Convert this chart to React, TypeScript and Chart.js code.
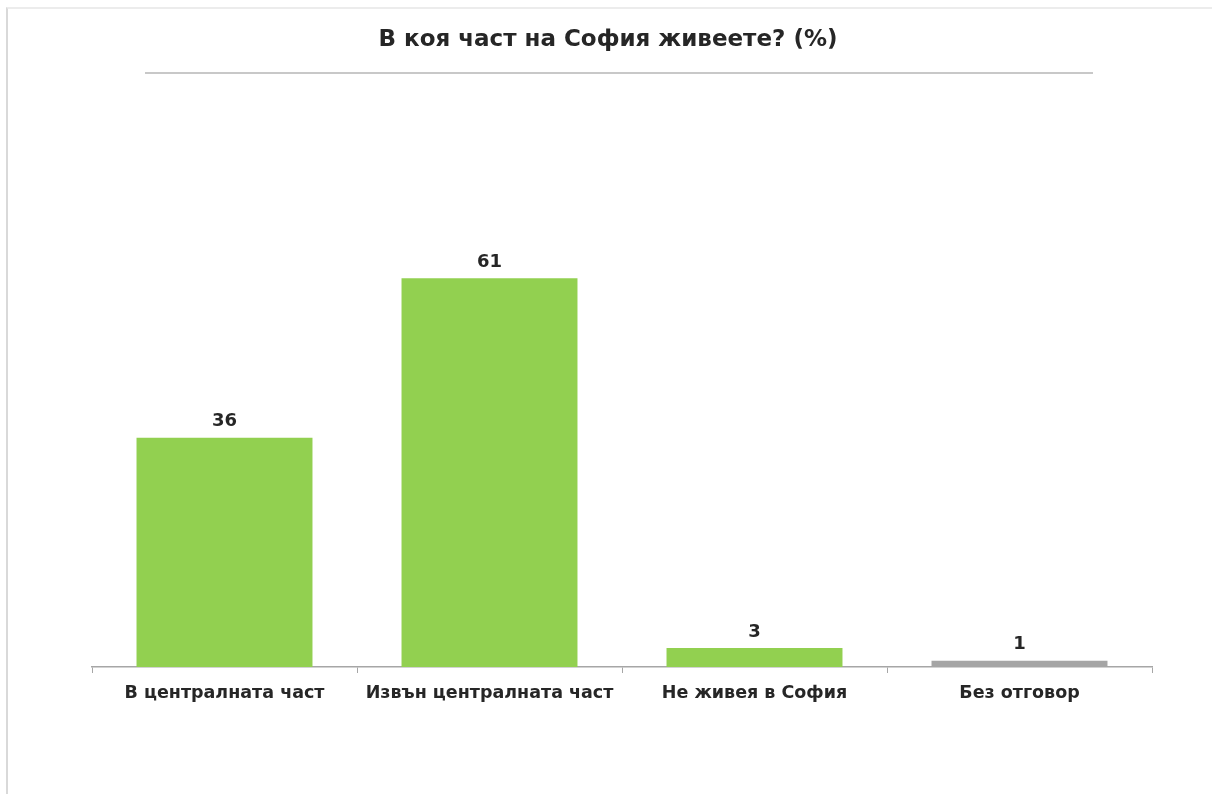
import React, { useEffect, useRef } from "react";
import { Chart, registerables } from "chart.js";

Chart.register(...registerables);

const TITLE = "В коя част на София живеете? (%)";
const categories = ["В централната част", "Извън централната част", "Не живея в София", "Без отговор"];
const values = [36, 61, 3, 1];
const barColors = ["#92d050", "#92d050", "#92d050", "#a5a5a5"];
const Y_MAX = 70;

const FONT = "'DejaVu Sans', 'Noto Sans', sans-serif";

const valueLabels = {
  id: "valueLabels",
  afterDatasetsDraw(chart: any) {
    const ctx = chart.ctx;
    const meta = chart.getDatasetMeta(0);
    ctx.save();
    ctx.font = `bold 18px ${FONT}`;
    ctx.fillStyle = "#262626";
    ctx.textAlign = "center";
    ctx.textBaseline = "bottom";
    meta.data.forEach((bar: any, i: number) => {
      ctx.fillText(String(values[i]), bar.x, bar.y - 7);
    });
    ctx.restore();
  },
};

const titlePlugin = {
  id: "customTitle",
  afterDraw(chart: any) {
    const ctx = chart.ctx;
    ctx.save();
    ctx.font = `bold 23px ${FONT}`;
    ctx.fillStyle = "#262626";
    ctx.textAlign = "center";
    ctx.textBaseline = "middle";
    ctx.fillText(TITLE, 608, 40);
    ctx.restore();
  },
};

export default function App() {
  const ref = useRef<HTMLCanvasElement | null>(null);
  useEffect(() => {
    if (!ref.current) return;
    const chart = new Chart(ref.current, {
      type: "bar",
      data: {
        labels: categories,
        datasets: [
          {
            data: values,
            backgroundColor: barColors,
            borderWidth: 0,
            categoryPercentage: 1,
            barPercentage: 0.664,
          },
        ],
      },
      options: {
        animation: false,
        responsive: false,
        maintainAspectRatio: false,
        layout: { padding: { left: 92, right: 60, top: 221, bottom: 80 } },
        plugins: {
          legend: { display: false },
          tooltip: { enabled: false },
          title: { display: false },
        },
        scales: {
          x: {
            grid: {
              drawOnChartArea: false,
              drawTicks: true,
              tickLength: 6,
              color: "#a6a6a6",
              offset: true,
            },
            border: { color: "#a6a6a6", width: 1.5 },
            ticks: {
              color: "#262626",
              font: { family: FONT, size: 17.5, weight: "bold" },
              padding: 10,
              maxRotation: 0,
            },
          },
          y: {
            display: false,
            min: 0,
            max: Y_MAX,
          },
        },
      },
      plugins: [valueLabels, titlePlugin],
    });
    return () => chart.destroy();
  }, []);

  return (
    <div style={{ position: "fixed", left: 0, top: 0, width: 1212, height: 794, background: "#fff" }}>
      <div
        style={{
          position: "absolute",
          left: 6,
          top: 7,
          right: 0,
          bottom: 0,
          borderLeft: "2px solid #d9d9d9",
          borderTop: "2px solid #ececec",
        }}
      />
      <div
        style={{
          position: "absolute",
          left: 145,
          top: 72,
          width: 948,
          height: 2,
          background: "#c8c8c8",
        }}
      />
      <canvas ref={ref} width={1212} height={794} style={{ position: "absolute", left: 0, top: 0 }} />
    </div>
  );
}
